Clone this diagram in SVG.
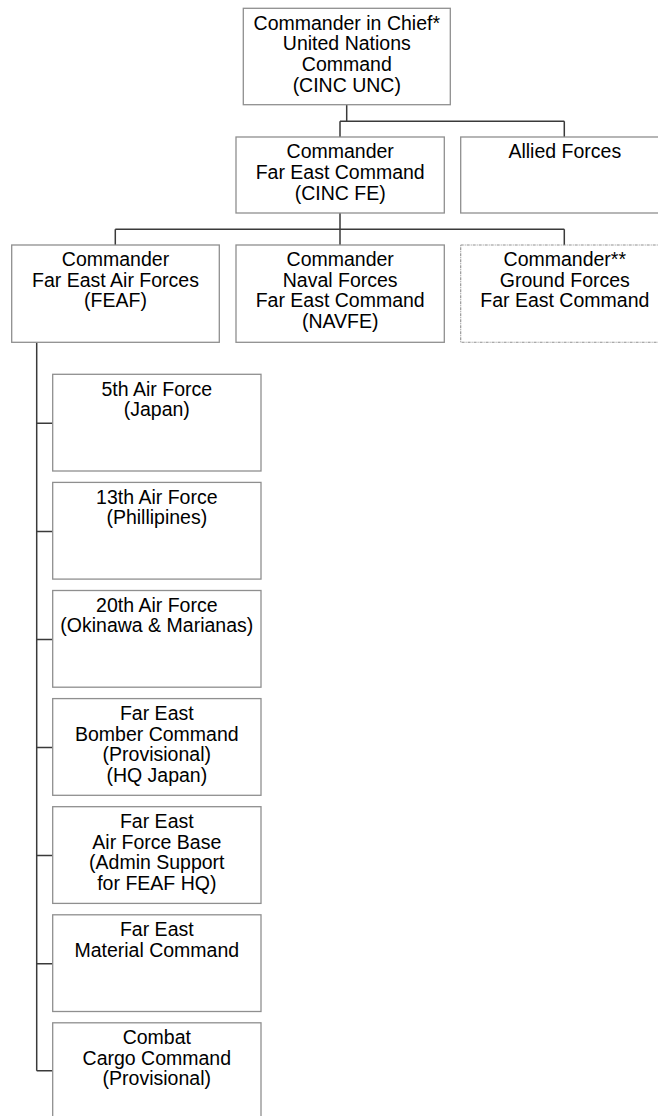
<svg xmlns="http://www.w3.org/2000/svg" width="658" height="1116" viewBox="0 0 658 1116">
<style>
.box{fill:#fff;stroke:#8f8f8f;stroke-width:1.3}
.dash{fill:#fff;stroke:#8f8f8f;stroke-width:1.1;stroke-dasharray:3 1 1 1}
.t{font-family:"Liberation Sans",Arial,sans-serif;font-size:19.5px;fill:#000;text-anchor:middle}
.c{fill:none;stroke:#3a3a3a;stroke-width:1.5}
</style>
<rect width="658" height="1116" fill="#fff"/>
<g id="connectors">
<path class="c" d="M346.7,104.7V121.3M340,121.3H564.3M340,121.3V137M564.3,121.3V137"/>
<path class="c" d="M340,213V229.3M115.3,229.3H564.3M115.3,229.3V245M340,229.3V245M564.3,229.3V245"/>
<path class="c" d="M36.7,342.3V1070.7M36.7,423.3H52.7M36.7,531.4H52.7M36.7,639.4H52.7M36.7,747.5H52.7M36.7,855.6H52.7M36.7,963.7H52.7M36.7,1070.7H52.7"/>
</g>
<g id="cinc-unc">
<rect class="box" x="243.3" y="8.3" width="207" height="96.4"/>
<text class="t" x="346.8"><tspan x="346.8" y="29.5">Commander in Chief*</tspan><tspan x="346.8" y="50.2">United Nations</tspan><tspan x="346.8" y="70.9">Command</tspan><tspan x="346.8" y="91.6">(CINC UNC)</tspan></text>
</g>
<g id="cinc-fe">
<rect class="box" x="236" y="137" width="208.3" height="76"/>
<text class="t"><tspan x="340.2" y="158.2">Commander</tspan><tspan x="340.2" y="178.9">Far East Command</tspan><tspan x="340.2" y="199.6">(CINC FE)</tspan></text>
</g>
<g id="allied">
<rect class="box" x="460.7" y="137" width="208.3" height="76"/>
<text class="t"><tspan x="564.8" y="158.2">Allied Forces</tspan></text>
</g>
<g id="feaf">
<rect class="box" x="11.7" y="245" width="207.6" height="97.3"/>
<text class="t"><tspan x="115.5" y="266">Commander</tspan><tspan x="115.5" y="286.7">Far East Air Forces</tspan><tspan x="115.5" y="307.4">(FEAF)</tspan></text>
</g>
<g id="navfe">
<rect class="box" x="236" y="245" width="208.3" height="97.3"/>
<text class="t"><tspan x="340.2" y="266">Commander</tspan><tspan x="340.2" y="286.7">Naval Forces</tspan><tspan x="340.2" y="307.4">Far East Command</tspan><tspan x="340.2" y="328.1">(NAVFE)</tspan></text>
</g>
<g id="ground">
<rect class="dash" x="460.7" y="245" width="208.3" height="97.3"/>
<text class="t"><tspan x="564.8" y="266">Commander**</tspan><tspan x="564.8" y="286.7">Ground Forces</tspan><tspan x="564.8" y="307.4">Far East Command</tspan></text>
</g>
<g id="af5">
<rect class="box" x="52.7" y="374.3" width="208.3" height="96.7"/>
<text class="t"><tspan x="156.8" y="395.5">5th Air Force</tspan><tspan x="156.8" y="416.2">(Japan)</tspan></text>
</g>
<g id="af13">
<rect class="box" x="52.7" y="482.4" width="208.3" height="96.7"/>
<text class="t"><tspan x="156.8" y="503.6">13th Air Force</tspan><tspan x="156.8" y="524.3">(Phillipines)</tspan></text>
</g>
<g id="af20">
<rect class="box" x="52.7" y="590.5" width="208.3" height="96.7"/>
<text class="t"><tspan x="156.8" y="611.7">20th Air Force</tspan><tspan x="156.8" y="632.4">(Okinawa &amp; Marianas)</tspan></text>
</g>
<g id="bomber">
<rect class="box" x="52.7" y="698.6" width="208.3" height="96.7"/>
<text class="t"><tspan x="156.8" y="719.8">Far East</tspan><tspan x="156.8" y="740.5">Bomber Command</tspan><tspan x="156.8" y="761.2">(Provisional)</tspan><tspan x="156.8" y="781.9">(HQ Japan)</tspan></text>
</g>
<g id="afbase">
<rect class="box" x="52.7" y="806.7" width="208.3" height="96.7"/>
<text class="t"><tspan x="156.8" y="827.9">Far East</tspan><tspan x="156.8" y="848.6">Air Force Base</tspan><tspan x="156.8" y="869.3">(Admin Support</tspan><tspan x="156.8" y="890">for FEAF HQ)</tspan></text>
</g>
<g id="material">
<rect class="box" x="52.7" y="914.8" width="208.3" height="96.7"/>
<text class="t"><tspan x="156.8" y="936">Far East</tspan><tspan x="156.8" y="956.7">Material Command</tspan></text>
</g>
<g id="cargo">
<rect class="box" x="52.7" y="1022.8" width="208.3" height="96.7"/>
<text class="t"><tspan x="156.8" y="1044">Combat</tspan><tspan x="156.8" y="1064.7">Cargo Command</tspan><tspan x="156.8" y="1085.4">(Provisional)</tspan></text>
</g>
</svg>
